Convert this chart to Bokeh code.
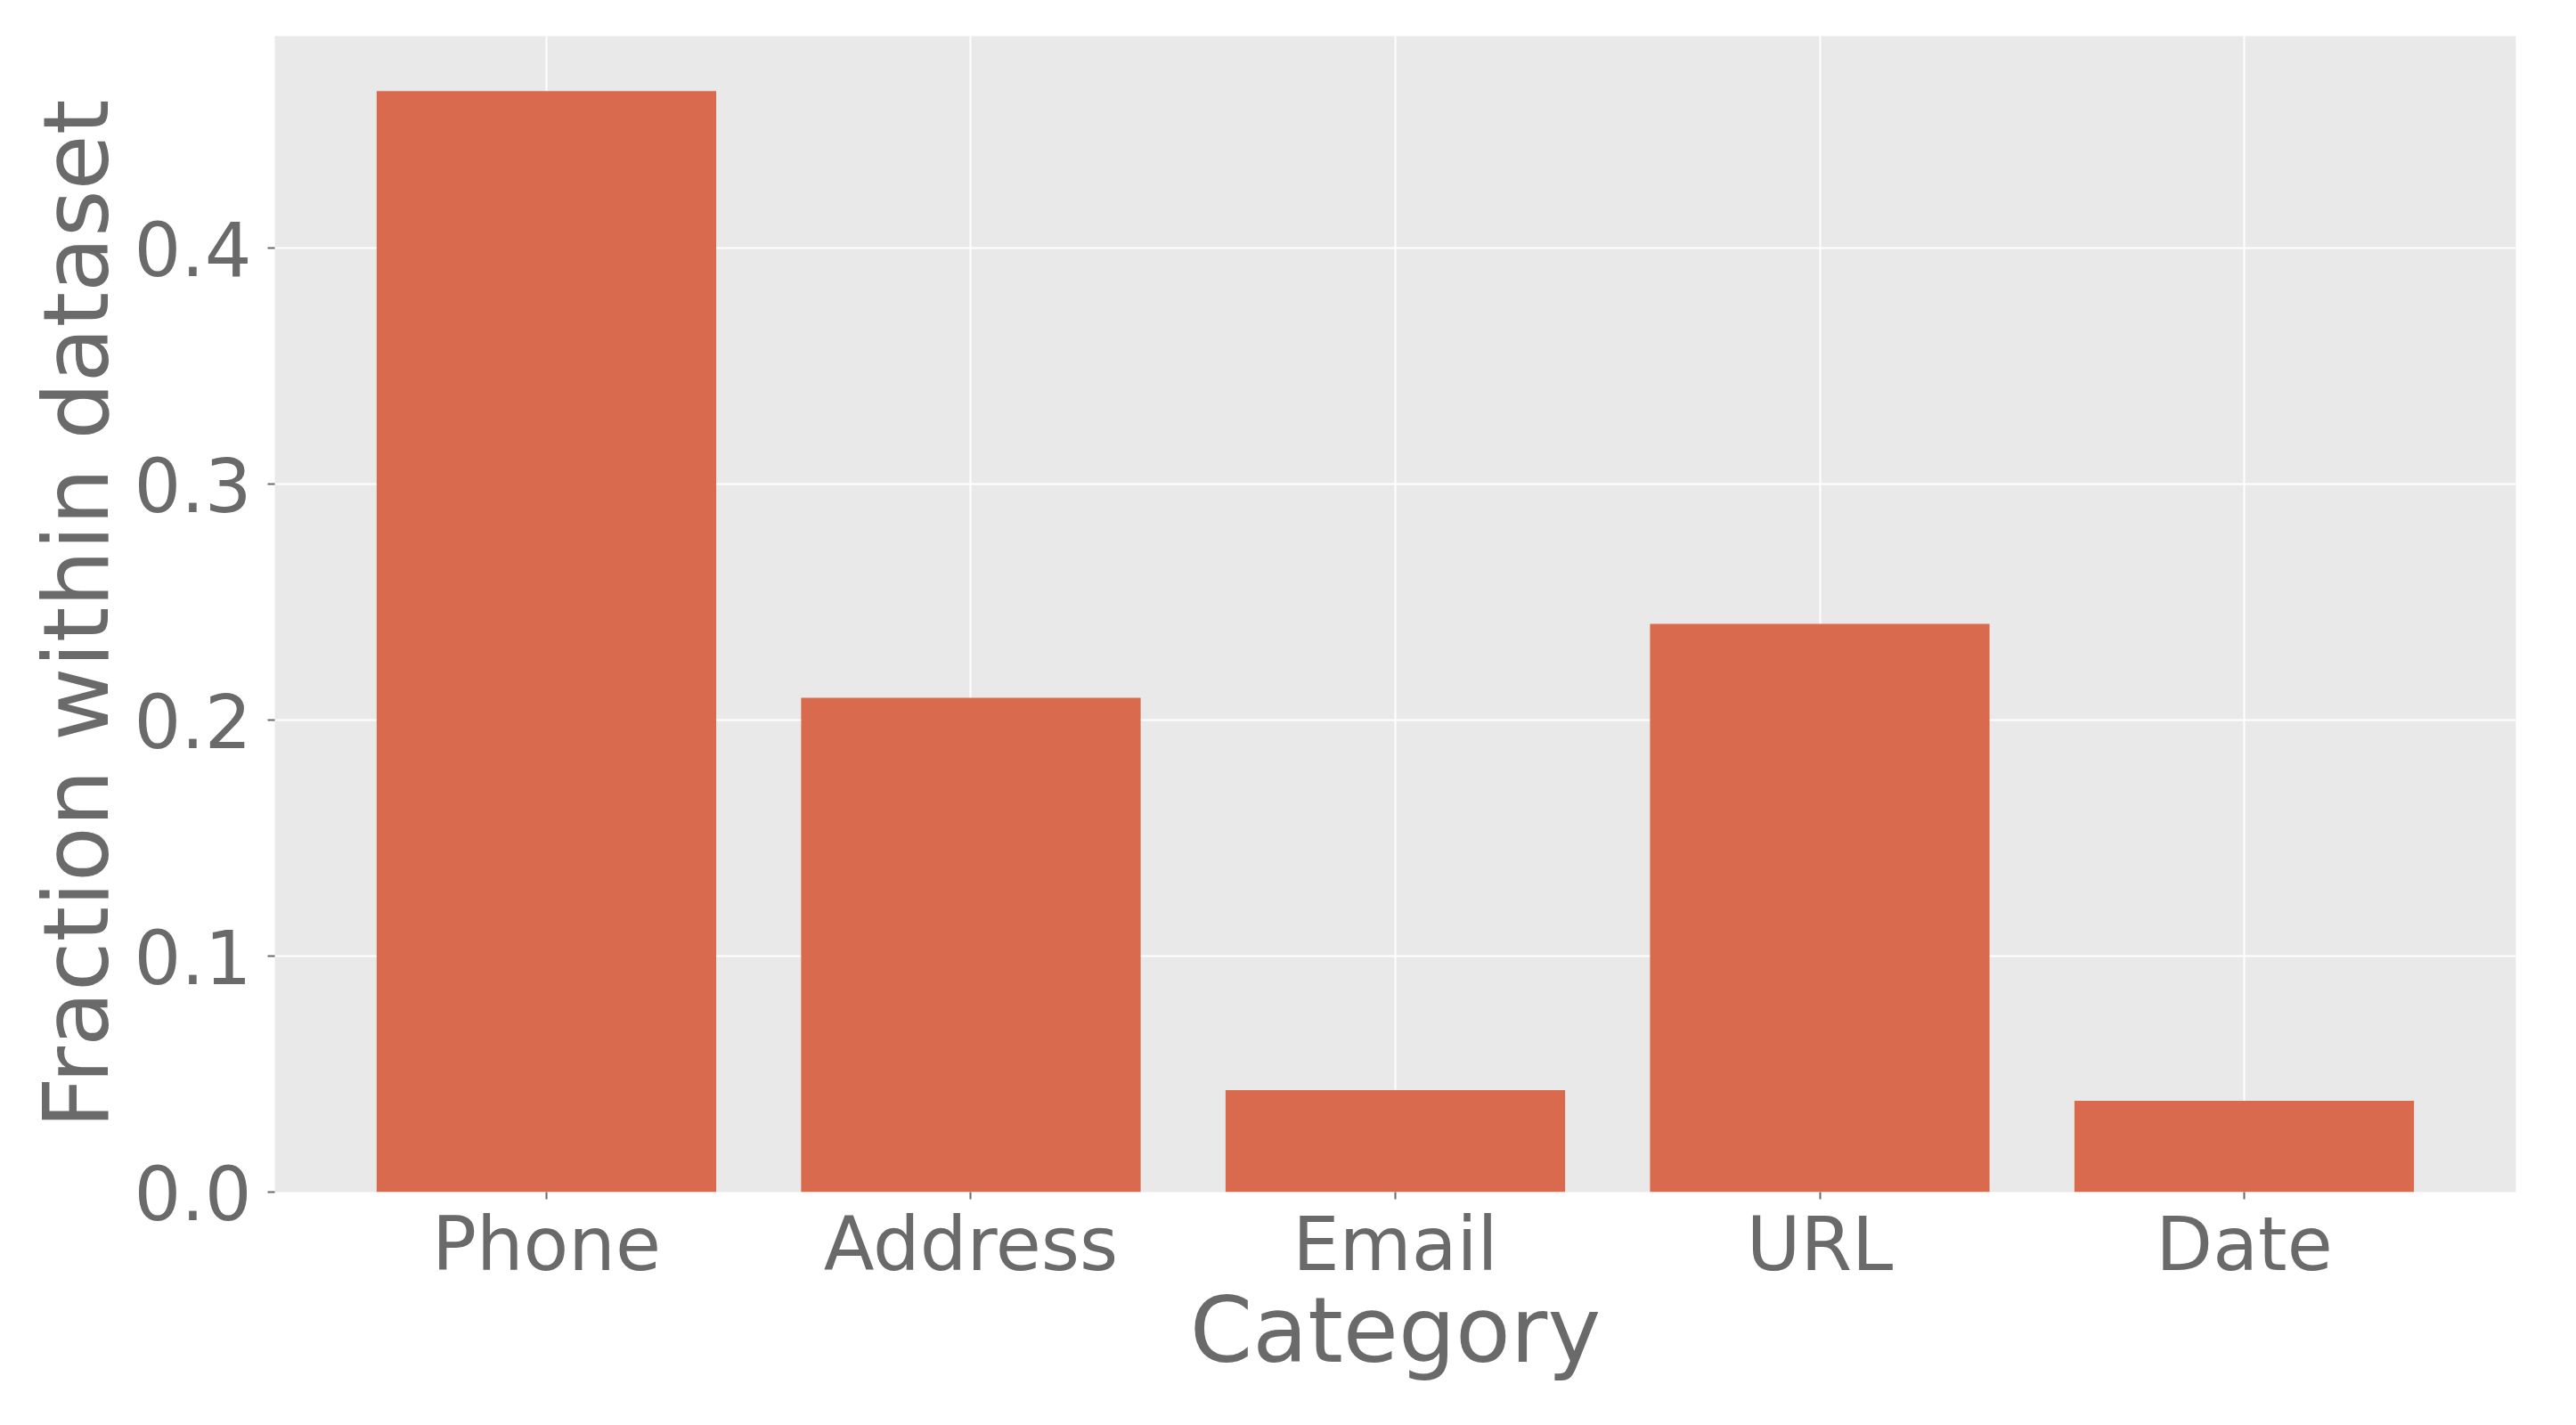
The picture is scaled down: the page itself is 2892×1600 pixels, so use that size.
from bokeh.plotting import figure
from bokeh.models import Range1d, FixedTicker, ColumnDataSource
from bokeh.embed import file_html
from bokeh.resources import INLINE

categories = ["Phone", "Address", "Email", "URL", "Date"]
fractions = [0.4666, 0.2095, 0.0432, 0.2408, 0.0387]
y_ticks = [0.0, 0.1, 0.2, 0.3, 0.4]

xs = list(range(len(categories)))
src = ColumnDataSource(dict(x=xs, top=fractions))

TEXT = "#6a6a6a"
FONT = "DejaVu Sans"

p = figure(width=2876, height=1584, output_backend="svg", toolbar_location=None,
           x_range=Range1d(-0.64, len(categories) - 1 + 0.64),
           y_range=Range1d(0, max(fractions) * 1.05),
           min_border_left=308, min_border_right=52, min_border_top=40, min_border_bottom=246)

p.vbar(x="x", top="top", bottom=0, width=0.8, source=src, fill_color="#DA6A4D", line_color=None)

p.background_fill_color = "#E9E9E9"
p.border_fill_color = "white"
p.outline_line_color = None

for g in (p.xgrid[0], p.ygrid[0]):
    g.grid_line_color = "white"
    g.grid_line_width = 2

p.xaxis.ticker = FixedTicker(ticks=xs)
p.xaxis.major_label_overrides = {i: c for i, c in enumerate(categories)}
p.yaxis.ticker = FixedTicker(ticks=y_ticks)
p.yaxis.major_label_overrides = {t: f"{t:.1f}" for t in y_ticks}
p.xgrid.ticker = FixedTicker(ticks=xs)
p.ygrid.ticker = FixedTicker(ticks=y_ticks)

p.xaxis.axis_label = "Category"
p.yaxis.axis_label = "Fraction within dataset"

for ax in (p.xaxis[0], p.yaxis[0]):
    ax.axis_line_color = None
    ax.major_tick_in = 0
    ax.major_tick_out = 8
    ax.major_tick_line_color = TEXT
    ax.major_tick_line_width = 2
    ax.minor_tick_line_color = None
    ax.major_label_text_font = FONT
    ax.major_label_text_font_size = "83px"
    ax.major_label_text_color = TEXT
    ax.axis_label_text_font = FONT
    ax.axis_label_text_font_size = "101px"
    ax.axis_label_text_color = TEXT
    ax.axis_label_text_font_style = "normal"

p.xaxis.major_label_standoff = 2
p.xaxis.axis_label_standoff = -14
p.yaxis.major_label_standoff = 18
p.yaxis.axis_label_standoff = 3

open("out.html", "w").write(file_html(p, INLINE))
